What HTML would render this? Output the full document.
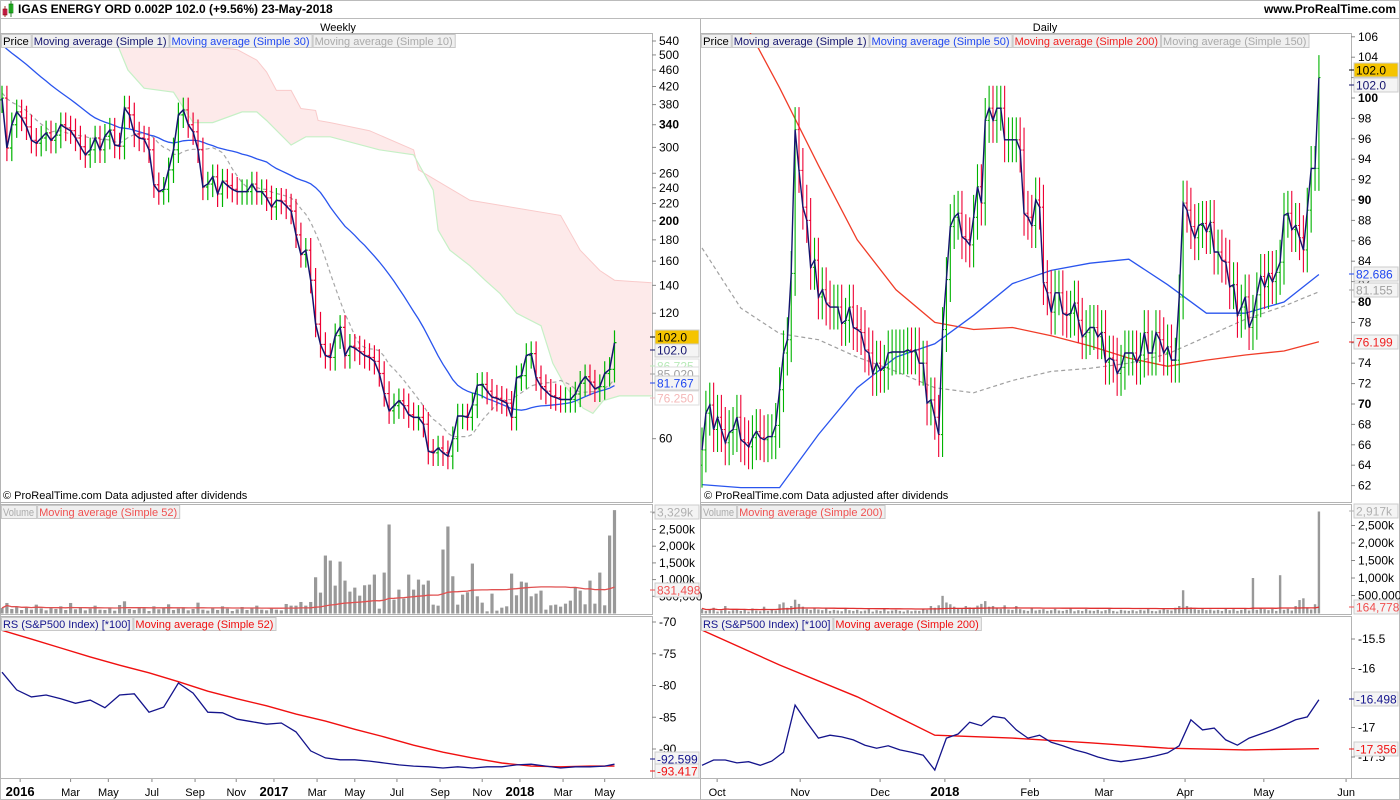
<!DOCTYPE html>
<html><head><meta charset="utf-8"><title>IGAS ENERGY chart</title>
<style>
html,body{margin:0;padding:0;background:#fff;}
svg{display:block;font-family:"Liberation Sans",sans-serif;}
</style></head>
<body>
<svg id="chart" width="1400" height="800" viewBox="0 0 1400 800" xmlns="http://www.w3.org/2000/svg">
<defs>
<clipPath id="cpW"><rect x="0" y="33" width="652" height="469"/></clipPath>
<clipPath id="cpD"><rect x="701" y="33" width="650" height="469"/></clipPath>
<clipPath id="cpWV"><rect x="0" y="504" width="652" height="110"/></clipPath>
<clipPath id="cpDV"><rect x="701" y="504" width="650" height="110"/></clipPath>
<clipPath id="cpWR"><rect x="0" y="616" width="652" height="161"/></clipPath>
<clipPath id="cpDR"><rect x="701" y="616" width="650" height="161"/></clipPath>
</defs>
<rect x="0" y="0" width="1400" height="800" fill="#fff"/>
<rect x="0.5" y="0.5" width="1399" height="799" fill="none" stroke="#bbb"/>
<g>
 <line x1="0" y1="18.5" x2="1400" y2="18.5" stroke="#bbb"/>
 <rect x="3" y="9" width="4" height="6" fill="#e0306a" stroke="#800" stroke-width="0.6"/>
 <line x1="5" y1="6" x2="5" y2="17" stroke="#800" stroke-width="0.8"/>
 <rect x="9" y="4" width="4" height="9" fill="#3c3" stroke="#060" stroke-width="0.6"/>
 <line x1="11" y1="1" x2="11" y2="17" stroke="#060" stroke-width="0.8"/>
 <text x="18" y="13" font-size="12" font-weight="bold" fill="#000">IGAS ENERGY ORD 0.002P    102.0 (+9.56%)    23-May-2018</text>
 <text x="1396" y="13" font-size="12" font-weight="bold" fill="#000" text-anchor="end">www.ProRealTime.com</text>
</g>
<text x="338" y="31" font-size="11" text-anchor="middle" fill="#000">Weekly</text>
<text x="1045" y="31" font-size="11" text-anchor="middle" fill="#000">Daily</text>
<g id="frames" fill="none" stroke="#b4b4b4">
 <rect x="0.5" y="33.5" width="652" height="469"/>
 <rect x="0.5" y="504.5" width="652" height="110"/>
 <rect x="0.5" y="616.5" width="652" height="162"/>
 <rect x="700.5" y="33.5" width="651" height="469"/>
 <rect x="700.5" y="504.5" width="651" height="110"/>
 <rect x="700.5" y="616.5" width="651" height="162"/>
 <line x1="700.5" y1="19" x2="700.5" y2="800"/>
 <line x1="0" y1="778.5" x2="1400" y2="778.5"/>
</g>
<g id="layer"></g>
</svg>
<script>
// ---------- WEEKLY DATA ----------
const weeklyPrior = [700,690,680,670,660,650,640,630,620,610,600,590,580,570,560,550,540,530,520,510,430,425,420,415,410,405,400,400,395,390];
const weeklyClose = [394,299,340,365,353,336,312,307,316,325,312,321,340,334,329,316,301,288,296,316,
296,319,330,304,302,373,359,323,316,314,296,244,235,238,265,296,359,369,340,327,
296,241,245,255,232,249,243,238,235,235,235,245,235,235,227,216,224,223,217,211,
185,166,170,144,113,101,95,94,106,111,95,100,99,97,95,94,92,86,77,70,
72,74,72,68.5,67.5,67.5,65,56,55.5,57,55.5,54.5,60,68,68,67.5,72.3,80.6,81,78,
75.5,75,74,73,67.5,84,85,95,96,84,80,78,76,75.3,74.5,74.5,74.5,76.8,81.5,84.5,
82,79,80,86,88,102];
const weeklyVolumeK = [150,300,120,200,90,180,100,250,140,80,160,120,200,90,300,110,170,80,130,220,
100,90,160,70,240,350,120,90,180,140,60,200,110,150,260,90,130,170,80,120,
310,100,70,150,90,200,130,60,110,180,90,140,220,100,80,160,
100,80,270,220,220,330,220,330,1070,610,1720,1570,820,1540,970,640,760,520,830,850,
1150,130,1210,2650,400,700,430,1150,700,1000,850,970,250,220,1900,2590,1100,250,550,620,
1480,500,310,50,580,70,160,200,1180,530,940,910,500,580,670,100,230,250,190,280,
370,750,670,260,970,280,1210,230,2320,3080];
const cloudUpperWeek = [22.7,48,52,54,56,59,61,64,64.5,67,75,84,85,95.5,114,118,122,125,132.6];
const cloudUpperPrice = [560,515,486,455,411,411,372,368,348,344,329,296,265,224,206,170,152,144,142];
const cloudLowerWeek = [22.7,25.7,29,35,39,43,49,52,54,59,62,67,77,84,88,89,91.4,95.5,98.6,101.6,105,110,112.4,115,118.6,120.6,122.7,126,132.6];
const cloudLowerPrice = [560,460,416,407,344,344,365,365,348,304,318,318,296,288,237,190,170,156,144,134,120,112,91,80,71,69,74,76,76];
const weeklyRS = [-77.9,-80.7,-81.8,-81.5,-82.1,-82.8,-82.3,-83.5,-81.5,-81.3,-84.2,-83.4,-79.6,-81.2,-84.2,-84.3,-85.3,-85.7,-86.1,-85.9,
-87.3,-90.3,-91.4,-91.7,-91.7,-91.9,-92.2,-92.5,-92.7,-92.8,-93.0,-92.8,-93.0,-92.8,-92.8,-92.5,-92.4,-92.7,-93.0,-92.8,-92.8,-92.7,-92.4];
const weeklyRSMA = [-71.3,-72.7,-74.1,-75.5,-76.8,-78.0,-79.4,-80.9,-82.1,-83.2,-84.5,-85.6,-86.9,-88.1,-89.4,-90.5,-91.4,-92.2,-92.7,-92.8,-92.7,-92.7];
const weeklyPriceTicks = [540,500,460,420,380,340,300,260,240,220,200,180,160,140,120,60];
const weeklyVolTicks = [3000,2500,2000,1500,1000,500];
const weeklyVolTickLabels = ['3,000k','2,500k','2,000k','1,500k','1,000k','500,000'];
const weeklyRSTicks = [-70,-75,-80,-85,-90];
const weeklyMonthLabels = ['2016','Mar','May','Jul','Sep','Nov','2017','Mar','May','Jul','Sep','Nov','2018','Mar','May'];
const weeklyMonthWeek = [3.7,14,21.7,30.6,39.4,47.8,55.5,64.3,72,80.6,89.4,98,105.7,114.5,123];

// ---------- DAILY DATA ----------
const dailyClose = [65.5,69.1,69.9,67.5,68.7,67.5,66.2,67.2,67.5,68.7,66.5,66.2,65.8,66.7,67.3,66.7,66.5,66.8,66.8,67.9,
71.4,75.0,76.3,82.8,96.9,92.9,89.3,88.0,83.4,84.1,80.5,81.2,79.9,79.5,79.5,79.5,77.9,78.2,79.5,77.5,
77.3,77.0,75.3,75.0,73.0,74.0,73.3,73.6,75.0,75.1,75.1,75.1,75.1,75.3,75.1,75.3,74.0,74.0,70.1,70.4,
68.7,67.0,77.3,82.2,87.4,88.3,88.7,86.4,86.1,85.6,88.3,91.3,89.7,97.8,99.0,97.8,99.0,99.0,95.9,95.9,
95.9,95.9,94.9,88.7,88.3,87.5,90.0,89.3,81.9,80.9,79.0,80.9,80.9,78.9,78.7,78.9,79.9,78.2,76.6,77.0,
77.5,77.5,76.6,77.0,74.1,74.5,74.3,73.0,73.6,75.0,75.0,75.0,74.1,74.8,77.0,75.0,75.0,77.0,76.3,75.0,
75.6,74.3,74.3,80.5,89.7,89.0,87.4,86.3,87.5,87.7,86.9,87.8,84.9,84.9,84.1,83.9,81.5,81.7,78.7,79.5,
80.5,77.5,78.5,80.7,82.5,81.5,82.8,82.0,82.9,83.9,88.5,88.7,87.1,87.5,86.3,85.1,89.0,93.1,93.1,102.0];
const dailyVolumeK = [120,60,90,150,40,70,200,50,80,110,60,90,40,130,70,50,180,60,90,70,
250,300,150,200,380,260,180,120,90,150,100,80,140,60,90,70,50,120,80,60,
90,50,70,110,40,80,60,130,50,70,90,60,40,80,50,70,60,110,90,200,
150,220,490,300,250,180,140,120,200,160,150,210,260,340,180,200,150,120,220,100,
90,200,110,80,60,140,70,90,110,60,80,120,70,60,90,150,50,80,60,110,
70,60,90,50,80,120,60,40,90,70,60,80,50,90,70,110,60,50,80,120,
90,70,150,200,650,200,160,110,90,120,80,100,70,90,60,140,80,110,60,90,
120,70,1000,90,150,110,80,120,60,1080,90,120,70,200,370,420,160,100,250,2900];
const maBarIndex = [0,10,20,30,40,50,60,70,80,90,100,110,120,130,140,150,159];
const dailyMA50 = [62.1,61.8,61.8,67.0,71.6,74.6,75.9,78.7,81.8,83.1,83.8,84.2,81.7,78.9,78.9,80.0,82.7];
const dailyMA200 = [115,108.1,101,93.4,86.1,81.2,78.0,77.3,77.5,76.7,75.7,74.5,73.7,74.3,74.8,75.2,76.1];
const dailyMA150 = [85.3,79.4,76.9,76.3,74.6,73.2,71.6,71.1,72.3,73.2,73.5,74.0,74.9,76.6,78.3,79.6,81.0];
const dailyRS = [-17.64,-17.55,-17.55,-17.60,-17.58,-17.64,-17.57,-17.42,-16.62,-16.91,-17.18,-17.13,-17.16,-17.21,-17.30,-17.35,-17.31,-17.38,-17.42,-17.47,
-17.72,-17.18,-17.11,-16.91,-16.97,-16.81,-16.84,-17.04,-17.18,-17.13,-17.25,-17.31,-17.38,-17.43,-17.50,-17.55,-17.58,-17.55,-17.52,-17.48,
-17.43,-17.31,-16.87,-17.04,-17.01,-17.21,-17.30,-17.18,-17.11,-17.04,-16.96,-16.87,-16.82,-16.53];
const dailyRSMABar = [0,20,40,60,80,100,120,140,159];
const dailyRSMA = [-15.35,-15.94,-16.48,-17.13,-17.18,-17.26,-17.35,-17.38,-17.36];
const dailyPriceTicks = [106,104,102,100,98,96,94,92,90,88,86,84,82,80,78,76,74,72,70,68,66,64,62];
const dailyVolTicks = [2500,2000,1500,1000,500];
const dailyVolTickLabels = ['2,500k','2,000k','1,500k','1,000k','500,000'];
const dailyRSTicks = [-15.5,-16,-17,-17.5];
const dailyMonthLabels = ['Oct','Nov','Dec','2018','Feb','Mar','Apr','May','Jun'];
const dailyMonthBar = [3.9,25.3,45.9,62.6,84.5,103.6,124.5,144.8,166];

// ---------- SCALES ----------
const xW = i => 2 + 4.9 * i;
const xD = i => 702 + 3.88 * i;
const yWP = v => 41 + 181 * Math.log(540 / v);
const yDP = v => 98 + (100 - v) * 10.2;
const yWV = k => 613 - k * 0.0334;
const yDV = k => 613 - k * 0.035;
const yWR = v => 622 + 6.35 * (-70 - v);
const yDR = v => 639 + 59 * (-15.5 - v);

const NS = 'http://www.w3.org/2000/svg';
const layer = document.getElementById('layer');
function mk(tag, attrs, parent) {
  const e = document.createElementNS(NS, tag);
  for (const k in attrs) e.setAttribute(k, attrs[k]);
  (parent || layer).appendChild(e);
  return e;
}
function grp(clip) { return mk('g', clip ? {'clip-path': 'url(#' + clip + ')'} : {}); }
function poly(pts, attrs, parent) {
  return mk('polyline', Object.assign({points: pts.map(p => p[0].toFixed(1) + ',' + p[1].toFixed(1)).join(' '), fill: 'none'}, attrs), parent);
}
function txt(x, y, s, attrs, parent) { const t = mk('text', Object.assign({x: x, y: y, 'font-size': 12}, attrs), parent); t.textContent = s; return t; }
function sma(arr, n, i) { let s = 0, c = 0; for (let j = Math.max(0, i - n + 1); j <= i; j++) { s += arr[j]; c++; } return s / c; }

// ---------- WEEKLY PRICE ----------
const gW = grp('cpW');


{
  const up = cloudUpperWeek.map((w, i) => [xW(w), yWP(cloudUpperPrice[i])]);
  const lo = cloudLowerWeek.map((w, i) => [xW(w), yWP(cloudLowerPrice[i])]);
  const pts = up.concat(lo.slice().reverse());
  const c = mk('polygon', {points: pts.map(p => p.join(',')).join(' '), fill: '#fdeaea', stroke: 'none'}, gW);
  
  
  const cu = poly(up, {stroke: '#f9caca', 'stroke-width': 1}, gW);
  
  
  const cl = poly(lo, {stroke: '#c6f0c6', 'stroke-width': 1.2}, gW);
  
  
}
const allW = weeklyPrior.concat(weeklyClose);
const P = weeklyPrior.length;
{
  const m30 = weeklyClose.map((c, i) => [xW(i), yWP(sma(allW, 30, i + P))]);
  const m10 = weeklyClose.map((c, i) => [xW(i), yWP(sma(allW, 10, i + P))]);
  const l10 = poly(m10, {stroke: '#a8a8a8', 'stroke-width': 1.2, 'stroke-dasharray': '4,3'}, gW);
  
  
  const l30 = poly(m30, {stroke: '#2a55ee', 'stroke-width': 1.3}, gW);
  
  
}
weeklyClose.forEach((c, i) => {
  const o = i === 0 ? weeklyPrior[P - 1] : weeklyClose[i - 1];
  const hi = Math.max(o, c) * 1.07, lo = Math.min(o, c) * 0.93;
  const col = c >= o ? '#00b300' : '#ee0033';
  const x = xW(i);
  const b = mk('path', {d: `M${x},${yWP(hi)}V${yWP(lo)}M${x - 2},${yWP(o)}H${x}M${x},${yWP(c)}H${x + 2}`, stroke: col, 'stroke-width': 1.2, fill: 'none'}, gW);
  
  
});
{
  const l = poly(weeklyClose.map((c, i) => [xW(i), yWP(c)]), {stroke: '#14146e', 'stroke-width': 1.5}, gW);
  
  
}

// ---------- DAILY PRICE ----------
const gD = grp('cpD');


{
  const m150 = poly(maBarIndex.map((b, i) => [xD(b), yDP(dailyMA150[i])]), {stroke: '#a0a0a0', 'stroke-width': 1.2, 'stroke-dasharray': '4,3'}, gD);
  
  
  const m200 = poly(maBarIndex.map((b, i) => [xD(b), yDP(dailyMA200[i])]), {stroke: '#f03c28', 'stroke-width': 1.3}, gD);
  
  
  const m50 = poly(maBarIndex.map((b, i) => [xD(b), yDP(dailyMA50[i])]), {stroke: '#2a55ee', 'stroke-width': 1.3}, gD);
  
  
}
dailyClose.forEach((c, i) => {
  const o = i === 0 ? 64 : dailyClose[i - 1];
  const hi = Math.max(o, c) + 2.2, lo = Math.min(o, c) - 2.2;
  const col = c >= o ? '#00b300' : '#ee0033';
  const x = xD(i);
  const b = mk('path', {d: `M${x},${yDP(hi)}V${yDP(lo)}M${x - 1.5},${yDP(o)}H${x}M${x},${yDP(c)}H${x + 1.5}`, stroke: col, 'stroke-width': 1.1, fill: 'none'}, gD);
  
  
});
{
  const l = poly(dailyClose.map((c, i) => [xD(i), yDP(c)]), {stroke: '#14146e', 'stroke-width': 1.4}, gD);
  
  
}

// ---------- VOLUME ----------
const gWV = grp('cpWV');


weeklyVolumeK.forEach((v, i) => {
  const r = mk('rect', {x: xW(i) - 1.6, y: yWV(v), width: 3.2, height: 613.5 - yWV(v), fill: '#999'}, gWV);
  
  
});
{
  const l = poly(weeklyVolumeK.map((v, i) => [xW(i), yWV(sma(weeklyVolumeK, 52, i))]), {stroke: '#e05050', 'stroke-width': 1.3}, gWV);
  
  
}
const gDV = grp('cpDV');


dailyVolumeK.forEach((v, i) => {
  const r = mk('rect', {x: xD(i) - 1.2, y: yDV(v), width: 2.4, height: 613.5 - yDV(v), fill: '#999'}, gDV);
  
  
});
{
  const l = poly(dailyVolumeK.map((v, i) => [xD(i), yDV(sma(dailyVolumeK, 200, i) * 1.1)]), {stroke: '#e03030', 'stroke-width': 1.3}, gDV);
  
  
}

// ---------- RS ----------
const gWR = grp('cpWR');


{
  const m = poly(weeklyRSMA.map((v, k) => [xW(Math.min(6 * k, 125)), yWR(v)]), {stroke: '#f01010', 'stroke-width': 1.4}, gWR);
  
  
  const l = poly(weeklyRS.map((v, k) => [xW(Math.min(3 * k, 125)), yWR(v)]), {stroke: '#14148c', 'stroke-width': 1.3}, gWR);
  
  
}
const gDR = grp('cpDR');


{
  const m = poly(dailyRSMA.map((v, k) => [xD(dailyRSMABar[k]), yDR(v)]), {stroke: '#f01010', 'stroke-width': 1.4}, gDR);
  
  
  const l = poly(dailyRS.map((v, k) => [xD(Math.min(3 * k, 159)), yDR(v)]), {stroke: '#14148c', 'stroke-width': 1.3}, gDR);
  
  
}

// ---------- AXES ----------
const gAx = grp(null);


function yTick(x0, y, label, bold) {
  mk('line', {x1: x0, y1: y, x2: x0 + 4, y2: y, stroke: '#888'}, gAx);
  const t = txt(x0 + 7, y + 4, label, bold ? {'font-weight': 'bold', fill: '#000'} : {fill: '#000'}, gAx);
  
  
}
weeklyPriceTicks.forEach(v => yTick(652, yWP(v), String(v), v === 340 || v === 200));
dailyPriceTicks.forEach(v => yTick(1351, yDP(v), String(v), v % 10 === 0));
weeklyVolTicks.forEach((v, i) => yTick(652, yWV(v), weeklyVolTickLabels[i]));
dailyVolTicks.forEach((v, i) => yTick(1351, yDV(v), dailyVolTickLabels[i]));
weeklyRSTicks.forEach(v => yTick(652, yWR(v), String(v)));
dailyRSTicks.forEach(v => yTick(1351, yDR(v), String(v)));
weeklyMonthLabels.forEach((m, i) => {
  const x = xW(weeklyMonthWeek[i]);
  mk('line', {x1: x, y1: 779, x2: x, y2: 782, stroke: '#888'}, gAx);
  const t = txt(x, 796, m, /^\d/.test(m) ? {'text-anchor': 'middle', 'font-weight': 'bold', 'font-size': 13} : {'text-anchor': 'middle', 'font-size': 11}, gAx);
  
  
});
dailyMonthLabels.forEach((m, i) => {
  const x = xD(dailyMonthBar[i]);
  mk('line', {x1: x, y1: 779, x2: x, y2: 782, stroke: '#888'}, gAx);
  const t = txt(x, 796, m, /^\d/.test(m) ? {'text-anchor': 'middle', 'font-weight': 'bold', 'font-size': 13} : {'text-anchor': 'middle', 'font-size': 11}, gAx);
  
  
});

// value badges on axes
function badge(x, y, label, fg, bg, border) {
  const r = mk('rect', {x: x, y: y - 7, width: 44, height: 14, fill: bg, stroke: border}, gAx);
  
  
  txt(x + 2, y + 4.5, label, {fill: fg}, gAx);
  mk('line', {x1: x - 5, y1: y, x2: x, y2: y, stroke: fg}, gAx);
}
badge(655, 398, '76.250', '#f4b8b8', '#fff', '#ddd');
badge(655, 366, '86.725', '#b8eab8', '#fff', '#ddd');
badge(655, 374, '85.020', '#a0a0a0', '#fff', '#ddd');
badge(655, 383, '81.767', '#1e46f0', '#f4f4f4', '#ccc');
badge(655, 350, '102.0', '#14146e', '#f4f4f4', '#ccc');
badge(655, 337, '102.0', '#000', '#f5c400', '#ccc');
badge(655, 512, '3,329k', '#b0b0b0', '#f4f4f4', '#ccc');
badge(655, 590, '831,498', '#f05050', '#f4f4f4', '#ccc');
badge(655, 759, '-92.599', '#14148c', '#f4f4f4', '#ccc');
badge(655, 771, '-93.417', '#f01010', '#f4f4f4', '#ccc');
badge(1354, 342, '76.199', '#f02020', '#f4f4f4', '#ccc');
badge(1354, 290, '81.155', '#a0a0a0', '#f4f4f4', '#ccc');
badge(1354, 274, '82.686', '#1e46f0', '#f4f4f4', '#ccc');
badge(1354, 85, '102.0', '#14146e', '#f4f4f4', '#ccc');
badge(1354, 70, '102.0', '#000', '#f5c400', '#ccc');
badge(1354, 511, '2,917k', '#b0b0b0', '#f4f4f4', '#ccc');
badge(1354, 607, '164,778', '#f05050', '#f4f4f4', '#ccc');
badge(1354, 699, '-16.498', '#14148c', '#f4f4f4', '#ccc');
badge(1354, 749, '-17.356', '#f01010', '#f4f4f4', '#ccc');

// legends
function legend(x, y, items, name) {
  const g = mk('g', {}, layer);
  
  
  items.forEach(it => {
    const w = it[0].length * 5.35 + 3;
    mk('rect', {x: x + 0.5, y: y + 0.5, width: w, height: 13, fill: '#f0f0f0', stroke: '#c8c8c8'}, g);
    const t = txt(x + 2, y + 11, it[0], {fill: it[1], 'font-size': 11, textLength: (w - 4).toFixed(1), lengthAdjust: 'spacingAndGlyphs'}, g);
    x += w + 1;
  });
}
legend(1, 34, [['Price', '#000'], ['Moving average (Simple 1)', '#14146e'], ['Moving average (Simple 30)', '#1e46f0'], ['Moving average (Simple 10)', '#aaa']], 'weekly-price-legend');
legend(701, 34, [['Price', '#000'], ['Moving average (Simple 1)', '#14146e'], ['Moving average (Simple 50)', '#1e46f0'], ['Moving average (Simple 200)', '#f02020'], ['Moving average (Simple 150)', '#aaa']], 'daily-price-legend');
legend(1, 505, [['Volume', '#aaa'], ['Moving average (Simple 52)', '#f05050']], 'weekly-volume-legend');
legend(701, 505, [['Volume', '#aaa'], ['Moving average (Simple 200)', '#f05050']], 'daily-volume-legend');
legend(1, 617, [['RS (S&P500 Index) [*100]', '#14148c'], ['Moving average (Simple 52)', '#f01010']], 'weekly-rs-legend');
legend(701, 617, [['RS (S&P500 Index) [*100]', '#14148c'], ['Moving average (Simple 200)', '#f01010']], 'daily-rs-legend');
{
  const a = txt(3, 499, '© ProRealTime.com  Data adjusted after dividends', {'font-size': 11, fill: '#000'});
  
  
  const b = txt(704, 499, '© ProRealTime.com  Data adjusted after dividends', {'font-size': 11, fill: '#000'});
  
  
}
</script>
</body></html>
